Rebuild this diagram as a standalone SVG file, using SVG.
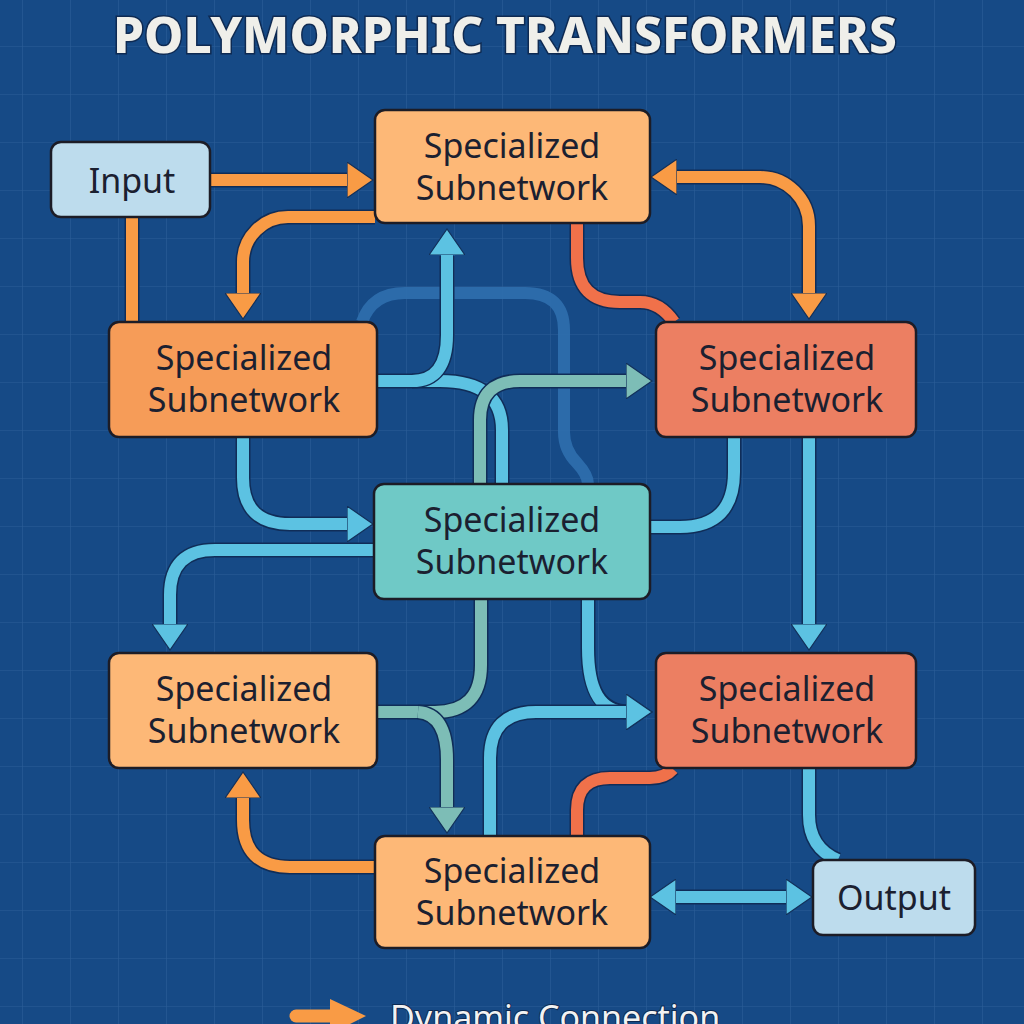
<svg xmlns="http://www.w3.org/2000/svg" width="1024" height="1024" viewBox="0 0 1024 1024">
<defs>
<pattern id="grid" x="22" y="46" width="48" height="48" patternUnits="userSpaceOnUse">
<path d="M0,0 H48 M0,0 V48" fill="none" stroke="#2b5d97" stroke-width="1.2"/>
</pattern>
<marker id="ah-orange" viewBox="0 0 27 36" refX="1" refY="18" markerWidth="27" markerHeight="36" markerUnits="userSpaceOnUse" orient="auto-start-reverse">
<path d="M0,0 L26,18 L0,36 Z" fill="#f99b45" stroke="#12305a" stroke-width="1.2"/>
</marker>
<marker id="ah-blue" viewBox="0 0 27 36" refX="1" refY="18" markerWidth="27" markerHeight="36" markerUnits="userSpaceOnUse" orient="auto-start-reverse">
<path d="M0,0 L26,18 L0,36 Z" fill="#5cc2e2" stroke="#12305a" stroke-width="1.2"/>
</marker>
<marker id="ah-teal" viewBox="0 0 27 36" refX="1" refY="18" markerWidth="27" markerHeight="36" markerUnits="userSpaceOnUse" orient="auto-start-reverse">
<path d="M0,0 L26,18 L0,36 Z" fill="#7dbdb6" stroke="#12305a" stroke-width="1.2"/>
</marker>
</defs>
<style>
.bg{fill:#164a86}
.node rect{stroke:#1c1c26;stroke-width:2.5}
.node text{font-family:"Noto Sans","Open Sans",sans-serif;font-size:34px;fill:#1b2030;text-anchor:middle}
.io{fill:#bddced}
.lt{fill:#fdb877}
.or{fill:#f69c58}
.rd{fill:#ec7f62}
.tl{fill:#6fc9c6}
.c{fill:none;stroke-width:12}
.o{fill:none;stroke:#102d58;stroke-width:15}
.orange{stroke:#f99b45}
.blue{stroke:#5cc2e2}
.teal{stroke:#7dbdb6}
.red{stroke:#f0714a}
.faint{fill:none;stroke:#2f6fae;stroke-width:12;opacity:0.9}
.title{font-family:"Noto Sans","Open Sans",sans-serif;font-weight:800;font-size:49px;fill:#efefea;stroke:#0e2a52;stroke-width:3;paint-order:stroke;text-anchor:middle}
.legend{font-family:"Noto Sans","Open Sans",sans-serif;font-size:34px;fill:#f2f2f2;stroke:#0e2a52;stroke-width:2;paint-order:stroke}
</style>
<rect class="bg" x="0" y="0" width="1024" height="1024"/>
<rect x="0" y="0" width="1024" height="1024" fill="url(#grid)"/>
<text class="title" x="505" y="53" textLength="784" lengthAdjust="spacingAndGlyphs">POLYMORPHIC TRANSFORMERS</text>

<g id="connectors">
<path class="faint" d="M362,322 Q372,293 405,293 H525 Q564,293 564,330 V432 Q564,450 577,463 Q588,475 588,484"/>

<path class="o" d="M211,180 H350"/>
<path class="c orange" d="M211,180 H348" marker-end="url(#ah-orange)"/>
<path class="o" d="M132,218 V322"/>
<path class="c orange" d="M132,218 V322"/>
<path class="o" d="M375,217 H288 A45,45 0 0 0 243,262 V296"/>
<path class="c orange" d="M375,217 H288 A45,45 0 0 0 243,262 V294" marker-end="url(#ah-orange)"/>
<path class="o" d="M674,177 H760 A49,49 0 0 1 809,226 V296"/>
<path class="c orange" d="M676,177 H760 A49,49 0 0 1 809,226 V294" marker-start="url(#ah-orange)" marker-end="url(#ah-orange)"/>
<path class="o" d="M577,224 V258 Q577,302 620,302 H640 Q660,302 674,322"/>
<path class="c red" d="M577,224 V258 Q577,302 620,302 H640 Q660,302 674,322"/>

<path class="o" d="M377,381 H440 Q502,381 502,430 V484"/>
<path class="c blue" d="M377,381 H440 Q502,381 502,430 V484"/>
<path class="o" d="M412,381 Q447,381 447,335 V256"/>
<path class="c blue" d="M412,381 Q447,381 447,335 V254" marker-end="url(#ah-blue)"/>
<path class="o" d="M480,484 V420 Q480,381 520,381 H629"/>
<path class="c teal" d="M480,484 V420 Q480,381 520,381 H627" marker-end="url(#ah-teal)"/>

<path class="o" d="M243,437 V478 Q243,524 290,524 H350"/>
<path class="c blue" d="M243,437 V478 Q243,524 290,524 H348" marker-end="url(#ah-blue)"/>
<path class="o" d="M374,550 H215 Q170,550 170,595 V627"/>
<path class="c blue" d="M374,550 H215 Q170,550 170,595 V625" marker-end="url(#ah-blue)"/>
<path class="o" d="M734,437 V472 Q734,527 680,527 H650"/>
<path class="c blue" d="M734,437 V472 Q734,527 680,527 H650"/>
<path class="o" d="M809,437 V627"/>
<path class="c blue" d="M809,437 V625" marker-end="url(#ah-blue)"/>

<path class="o" d="M481,599 V665 Q481,712 435,712 H377"/>
<path class="c teal" d="M481,599 V665 Q481,712 435,712 H377"/>
<path class="o" d="M418,712 Q447,714 447,760 V810"/>
<path class="c teal" d="M418,712 Q447,714 447,760 V808" marker-end="url(#ah-teal)"/>

<path class="o" d="M588,599 V648 C588,690 600,712 629,712"/>
<path class="c blue" d="M588,599 V648 C588,690 600,712 627,712" marker-end="url(#ah-blue)"/>
<path class="o" d="M490,836 V758 Q490,712 536,712 H629"/>
<path class="c blue" d="M490,836 V758 Q490,712 536,712 H627" marker-end="url(#ah-blue)"/>

<path class="o" d="M673,769 Q665,778 650,778 H610 Q577,778 577,810 V836"/>
<path class="c red" d="M673,769 Q665,778 650,778 H610 Q577,778 577,810 V836"/>
<path class="o" d="M809,768 V815 Q809,848 838,860"/>
<path class="c blue" d="M809,768 V815 Q809,848 838,860"/>
<path class="o" d="M673,897 H789"/>
<path class="c blue" d="M675,897 H787" marker-start="url(#ah-blue)" marker-end="url(#ah-blue)"/>
<path class="o" d="M375,867 H290 Q243,867 243,820 V795"/>
<path class="c orange" d="M375,867 H290 Q243,867 243,820 V797" marker-end="url(#ah-orange)"/>
</g>

<g id="node-input" class="node"><rect class="io" x="51" y="142" width="159" height="75" rx="10"/><text x="132" y="193">Input</text></g>
<g id="node-top" class="node"><rect class="lt" x="375" y="110" width="275" height="113" rx="10"/><text x="512" y="158">Specialized</text><text x="512" y="200">Subnetwork</text></g>
<g id="node-left1" class="node"><rect class="or" x="109" y="322" width="268" height="115" rx="10"/><text x="244" y="370">Specialized</text><text x="244" y="412">Subnetwork</text></g>
<g id="node-right1" class="node"><rect class="rd" x="656" y="322" width="260" height="115" rx="10"/><text x="787" y="370">Specialized</text><text x="787" y="412">Subnetwork</text></g>
<g id="node-center" class="node"><rect class="tl" x="374" y="484" width="276" height="115" rx="10"/><text x="512" y="532">Specialized</text><text x="512" y="574">Subnetwork</text></g>
<g id="node-left2" class="node"><rect class="lt" x="109" y="653" width="268" height="115" rx="10"/><text x="244" y="701">Specialized</text><text x="244" y="743">Subnetwork</text></g>
<g id="node-right2" class="node"><rect class="rd" x="656" y="653" width="260" height="115" rx="10"/><text x="787" y="701">Specialized</text><text x="787" y="743">Subnetwork</text></g>
<g id="node-bottom" class="node"><rect class="lt" x="375" y="836" width="275" height="112" rx="10"/><text x="512" y="883">Specialized</text><text x="512" y="925">Subnetwork</text></g>
<g id="node-output" class="node"><rect class="io" x="813" y="860" width="162" height="75" rx="10"/><text x="894" y="910">Output</text></g>

<g id="legend">
<path d="M296,1016 H334" fill="none" stroke="#f99b45" stroke-width="13" stroke-linecap="round"/>
<path d="M330,999 L366,1016 L330,1034 Z" fill="#f99b45"/>
<text class="legend" x="390" y="1030">Dynamic Connection</text>
</g>
</svg>
